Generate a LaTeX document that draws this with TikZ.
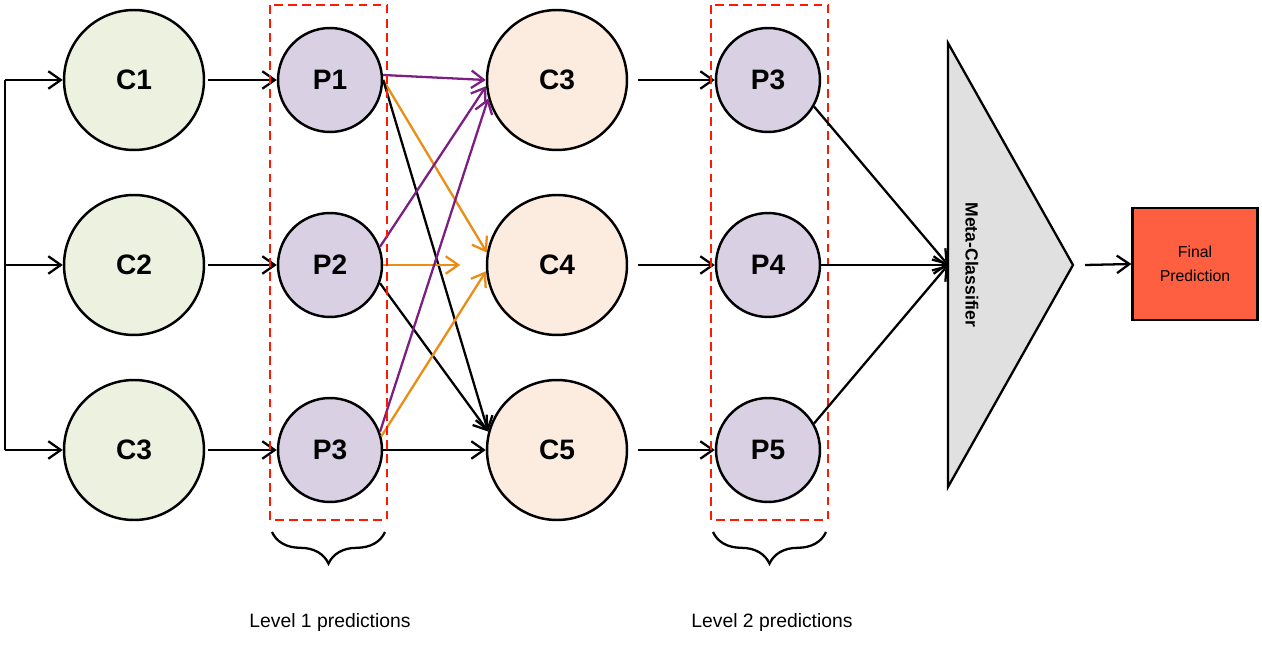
\documentclass[tikz,border=0pt]{standalone}
\usepackage{fontspec}
\setmainfont{Liberation Sans}
\usetikzlibrary{arrows.meta,decorations.pathreplacing}
\definecolor{cgreen}{RGB}{236,241,224}
\definecolor{ppurple}{RGB}{217,208,227}
\definecolor{cpeach}{RGB}{252,235,223}
\definecolor{apurple}{RGB}{125,30,130}
\definecolor{aorange}{RGB}{235,140,20}
\definecolor{fred}{RGB}{255,95,65}
\definecolor{tgray}{RGB}{224,224,224}
\tikzset{
  cnode/.style={circle,draw,line width=1.4pt,minimum size=2.8cm,font=\fontsize{16}{18}\selectfont\bfseries},
  pnode/.style={circle,draw,line width=1.4pt,fill=ppurple,minimum size=2.08cm,font=\fontsize{16}{18}\selectfont\bfseries},
  arr/.style={-{Straight Barb[length=2.5mm,width=3.5mm]},line width=1.3pt},
  box/.style={draw=red!80!orange,dashed,line width=1.5pt,dash pattern=on 5pt off 3pt},
  brc/.style={line width=1.3pt,decorate,decoration={brace,mirror,amplitude=18pt}},
}
\begin{document}
\begin{tikzpicture}[x=0.02cm,y=-0.02cm]
\useasboundingbox (0,0) rectangle (1262,645);

\node[cnode,fill=cgreen] (c1) at (134,80) {C1};
\node[cnode,fill=cgreen] (c2) at (134,265) {C2};
\node[cnode,fill=cgreen] (c3) at (134,450) {C3};
\node[pnode] (p1) at (330,80) {P1};
\node[pnode] (p2) at (330,265) {P2};
\node[pnode] (p3) at (330,450) {P3};
\node[cnode,fill=cpeach] (d3) at (557,80) {C3};
\node[cnode,fill=cpeach] (d4) at (557,265) {C4};
\node[cnode,fill=cpeach] (d5) at (557,450) {C5};
\node[pnode] (q3) at (768,80) {P3};
\node[pnode] (q4) at (768,265) {P4};
\node[pnode] (q5) at (768,450) {P5};

% input line
\coordinate (in1) at (5,80);
\coordinate (in2) at (5,265);
\coordinate (in3) at (5,450);
\draw[line width=1.3pt] (in1) -- (in3);
\foreach \i in {1,2,3} {
  \draw[arr] (in\i) -- (c\i);
  \draw[arr] (c\i.east) ++(3,0) -- (p\i);
}
\draw[arr] (d3.east) ++(10,0) -- (q3);
\draw[arr] (d4.east) ++(10,0) -- (q4);
\draw[arr] (d5.east) ++(10,0) -- (q5);

% level 1 to level 2
\draw[arr,apurple] (p1.east) ++(0,-5) -- (d3.west);
\draw[arr,aorange] (p1.east) -- (d4.170);
\draw[arr] (p1.east) -- (d5.165);
\draw[arr,apurple] (p2.20) -- (d3.185);
\draw[arr,aorange] (p2.east) -- ++(77,0);
\draw[arr] (p2.-20) -- (d5.165);
\draw[arr,apurple] (p3.20) -- (d3.195);
\draw[arr,aorange] (p3.15) -- (d4.185);
\draw[arr] (p3.east) -- (d5.west);

% boxes and braces
\draw[box] (270,5) rectangle (387,520);
\draw[box] (711,5) rectangle (828,520);
\draw[brc] (272,532) -- (385,532);
\draw[brc] (713,532) -- (826,532);
\node[font=\fontsize{11}{13}\selectfont] (l1) at (330,623) {Level 1 predictions};
\node[font=\fontsize{11}{13}\selectfont] (l2) at (772,623) {Level 2 predictions};

% meta classifier
\coordinate (t1) at (948,43);
\coordinate (t2) at (948,487);
\coordinate (t3) at (1073,265);
\draw[line width=1.3pt,fill=tgray] (t1) -- (t3) -- (t2) -- cycle;
\node[rotate=-90,font=\fontsize{10}{12}\selectfont\bfseries] (meta) at (972,265) {Meta-Classifier};
\coordinate (mc) at (948,265);
\draw[arr] (q3.-30) -- (mc);
\draw[arr] (q4.east) -- (mc);
\draw[arr] (q5.30) -- (mc);

\node[draw,line width=1.3pt,fill=fred,minimum width=2.5cm,minimum height=2.24cm,align=center,font=\fontsize{9}{14}\selectfont] (fin) at (1195,264) {Final\\Prediction};
\draw[arr] (1085,265) -- (fin.west);
\end{tikzpicture}
\end{document}
